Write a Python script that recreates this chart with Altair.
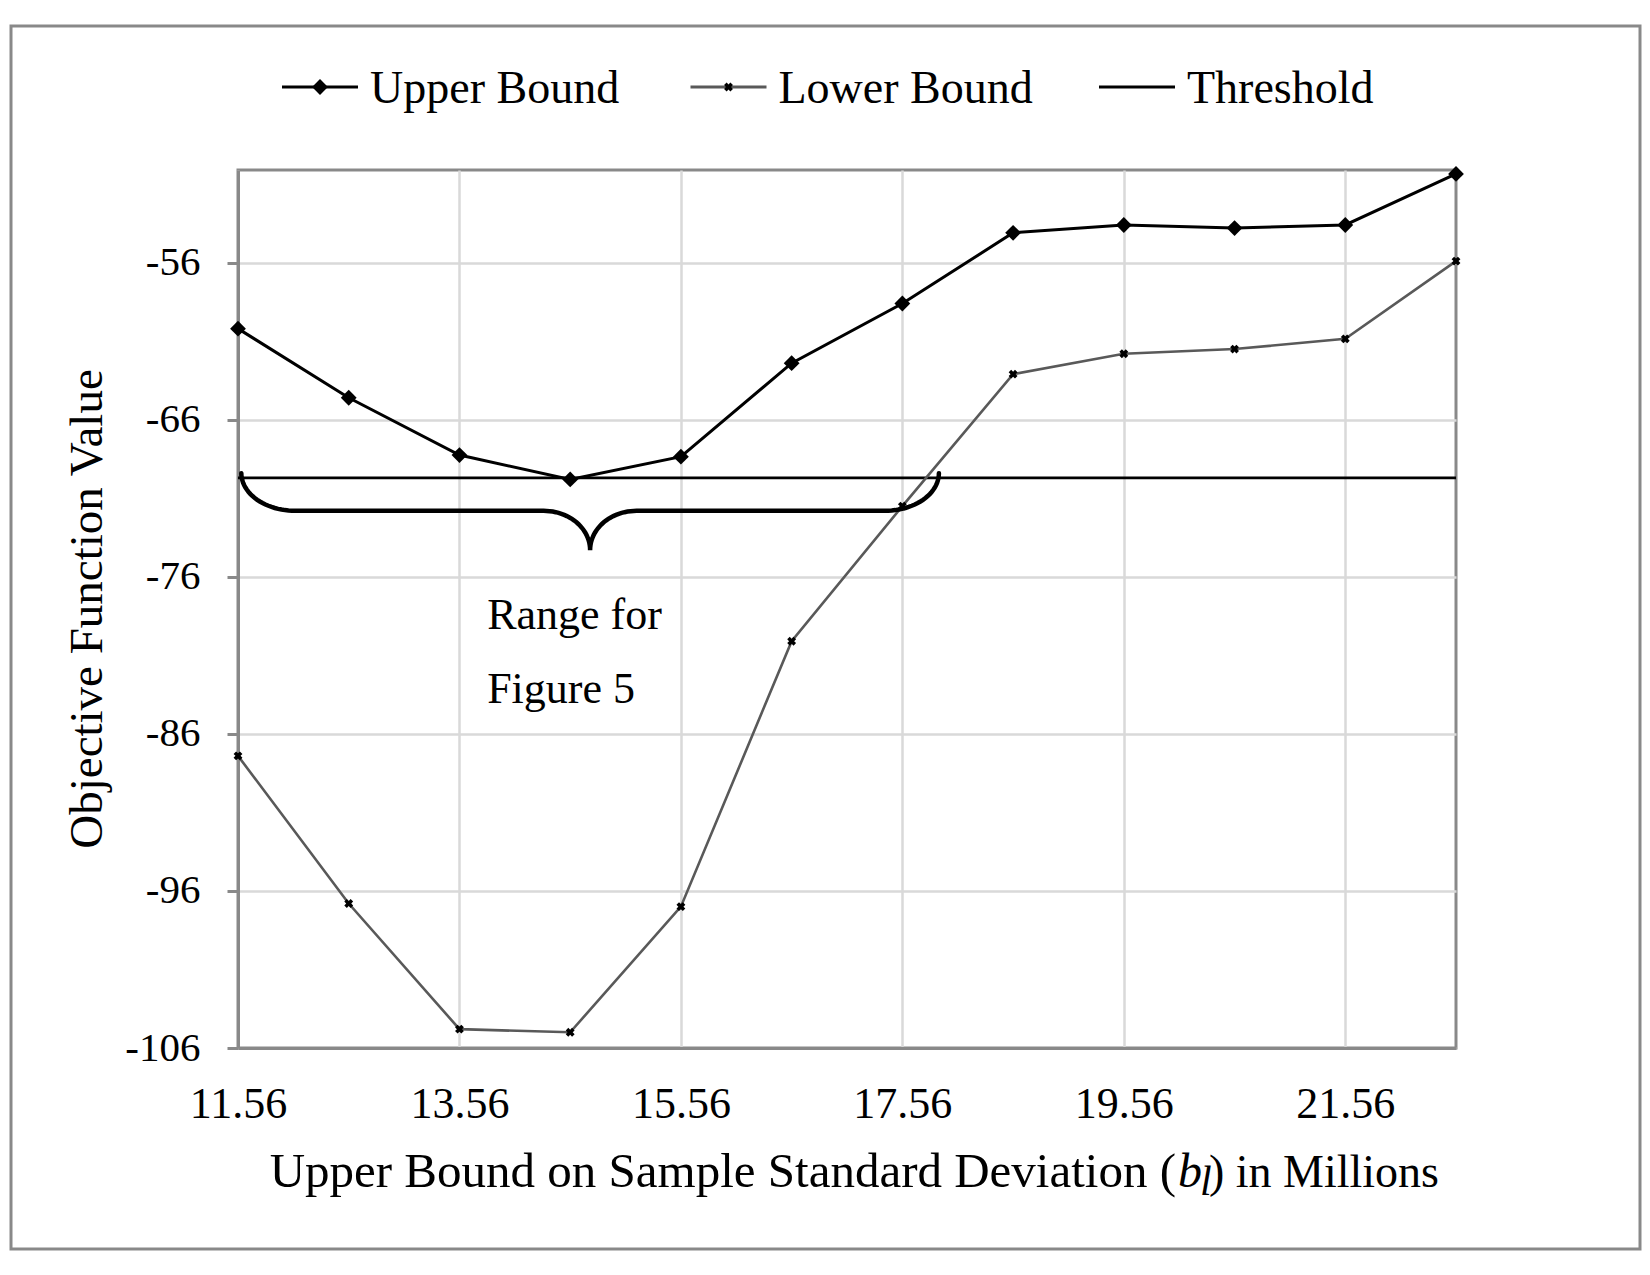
import altair as alt
import numpy as np
import pandas as pd

# ---- data -----------------------------------------------------------------
bound_sd = [11.56, 12.56, 13.56, 14.56, 15.56, 16.56, 17.56, 18.56, 19.56, 20.56, 21.56, 22.56]
upper_bound = [-60.2, -64.6, -68.25, -69.8, -68.35, -62.4, -58.6, -54.1, -53.6, -53.8, -53.6, -50.35]
lower_bound = [-87.4, -96.8, -104.8, -105.0, -97.0, -80.1, -71.5, -63.1, -61.8, -61.5, -60.85, -55.9]
threshold = -69.7

legend_names = ["Upper Bound", "Lower Bound", "Threshold"]
x_ticks = [11.56, 13.56, 15.56, 17.56, 19.56, 21.56]
y_ticks = [-106, -96, -86, -76, -66, -56]

# brace under the threshold (data units)
brace_x0, brace_x1 = 11.59, 17.89
brace_top, brace_mid, brace_tip = -69.4, -71.8, -74.3
brace_end_w, brace_center_w = 0.49, 0.42

FONT = "Liberation Serif"
GRID = "#d9d9d9"
FRAME = "#898989"
W, H = 1218, 878

series_df = pd.DataFrame({
    "x": bound_sd * 2,
    "value": upper_bound + lower_bound,
    "series": ["Upper Bound"] * len(bound_sd) + ["Lower Bound"] * len(bound_sd),
})
thr_df = pd.DataFrame({"x": [bound_sd[0], bound_sd[-1]], "value": [threshold, threshold]})

# curly brace path
t = np.linspace(0, np.pi / 2, 25)
xm = (brace_x0 + brace_x1) / 2
left_arc_x = brace_x0 + brace_end_w - brace_end_w * np.cos(t)
left_arc_y = brace_top - (brace_top - brace_mid) * np.sin(t)
mid_arc_x = xm - brace_center_w + brace_center_w * np.sin(t)
mid_arc_y = brace_tip + (brace_mid - brace_tip) * np.cos(t)
half_x = np.concatenate([left_arc_x, mid_arc_x])
half_y = np.concatenate([left_arc_y, mid_arc_y])
bx = np.concatenate([half_x, (2 * xm - half_x)[::-1]])
by = np.concatenate([half_y, half_y[::-1]])
brace_df = pd.DataFrame({"x": bx, "value": by, "k": np.arange(len(bx))})

xs = alt.Scale(domain=[bound_sd[0], bound_sd[-1]], nice=False, zero=False)
ys = alt.Scale(domain=[-106, -50.1], nice=False, zero=False)

x_enc = alt.X("x:Q", scale=xs, axis=alt.Axis(
    values=x_ticks, format=".2f", title=None, grid=True, gridColor=GRID, gridWidth=2.5,
    ticks=False, domain=True, domainColor=FRAME, domainWidth=3,
    labelFont=FONT, labelFontSize=44, labelColor="black", labelPadding=34, labelFlush=False,
))
y_enc = alt.Y("value:Q", scale=ys, axis=alt.Axis(
    values=y_ticks, title=None, grid=True, gridColor=GRID, gridWidth=2.5,
    ticks=True, tickSize=11, tickColor=FRAME, tickWidth=3,
    domain=True, domainColor=FRAME, domainWidth=3,
    labelFont=FONT, labelFontSize=41, labelColor="black", labelPadding=27, labelFlush=False,
    labelExpr="datum.value < 0 ? '-' + format(-datum.value, 'd') : format(datum.value, 'd')",
))

base = alt.Chart(series_df)
one = pd.DataFrame({"a": [0]})

frame = alt.Chart(one).mark_rect(
    fillOpacity=0, stroke=FRAME, strokeWidth=3
).encode(x=alt.value(-227), x2=alt.value(1402), y=alt.value(-144), y2=alt.value(1079))

upper_line = base.transform_filter(alt.datum.series == "Upper Bound").mark_line(
    color="black", strokeWidth=3).encode(x=x_enc, y=y_enc)
lower_line = base.transform_filter(alt.datum.series == "Lower Bound").mark_line(
    color="#595959", strokeWidth=2.6).encode(x=x_enc, y=y_enc)
thr_line = alt.Chart(thr_df).mark_line(color="black", strokeWidth=2.6).encode(x=x_enc, y=y_enc)
upper_pts = base.transform_filter(alt.datum.series == "Upper Bound").mark_point(
    shape="diamond", filled=True, color="black", size=250, opacity=1).encode(x=x_enc, y=y_enc)
lower_pts = base.transform_filter(alt.datum.series == "Lower Bound").mark_point(
    shape="cross", angle=45, filled=True, color="black", size=80, opacity=1).encode(x=x_enc, y=y_enc)
brace = alt.Chart(brace_df).mark_line(color="black", strokeWidth=4.5, strokeCap="round").encode(
    x=x_enc, y=y_enc, order="k:Q")

note_style = dict(font=FONT, fontSize=44, color="black", align="left", baseline="alphabetic")
note1 = alt.Chart(one).mark_text(text="Range for", **note_style).encode(
    x=alt.datum(13.81, scale=xs), y=alt.datum(-79.3, scale=ys))
note2 = alt.Chart(one).mark_text(text="Figure 5", **note_style).encode(
    x=alt.datum(13.81, scale=xs), y=alt.datum(-84.05, scale=ys))

# axis titles
y_title = alt.Chart(one).mark_text(
    text="Objective Function Value", font=FONT, fontSize=47, color="black",
    angle=270, align="center", baseline="alphabetic",
).encode(x=alt.value(-136), y=alt.value(H / 2))
title_y = 1017
xt_left = alt.Chart(one).mark_text(
    text="Upper Bound on Sample Standard Deviation (", font=FONT, fontSize=49, color="black",
    align="right", baseline="alphabetic").encode(x=alt.value(938), y=alt.value(title_y))
xt_b = alt.Chart(one).mark_text(
    text="b", font=FONT, fontSize=48, fontStyle="italic", color="black",
    align="left", baseline="alphabetic").encode(x=alt.value(940), y=alt.value(title_y))
xt_l = alt.Chart(one).mark_text(
    text="l", font=FONT, fontSize=42, fontStyle="italic", color="black",
    align="left", baseline="alphabetic").encode(x=alt.value(962), y=alt.value(title_y + 8))
xt_right = alt.Chart(one).mark_text(
    text=") in Millions", font=FONT, fontSize=46, color="black",
    align="left", baseline="alphabetic").encode(x=alt.value(971), y=alt.value(title_y))

main = alt.layer(frame, thr_line, lower_line, upper_line, lower_pts, upper_pts, brace,
                 note1, note2, y_title, xt_left, xt_b, xt_l, xt_right)

# legend across the top
leg_df = pd.DataFrame({"series": legend_names})
lx = alt.X("series:N", scale=alt.Scale(type="point", domain=legend_names, range=[82, 899], padding=0),
           axis=None)
lcol = alt.Color("series:N", scale=alt.Scale(domain=legend_names, range=["black", "#595959", "black"]),
                 legend=None)
leg_base = alt.Chart(leg_df)
leg_lines = leg_base.mark_rule(strokeWidth=3, xOffset=-38, x2Offset=38).encode(
    x=lx, x2="series:N", y=alt.value(-83), color=lcol)
leg_diamond = leg_base.transform_filter(alt.datum.series == "Upper Bound").mark_point(
    shape="diamond", filled=True, color="black", size=250, opacity=1).encode(x=lx, y=alt.value(-83))
leg_cross = leg_base.transform_filter(alt.datum.series == "Lower Bound").mark_point(
    shape="cross", angle=45, filled=True, color="black", size=80, opacity=1).encode(x=lx, y=alt.value(-83))
leg_text = leg_base.mark_text(font=FONT, fontSize=46, color="black", align="left",
                              baseline="alphabetic", dx=50).encode(
    x=lx, y=alt.value(-67), text="series:N")
legend = alt.layer(leg_lines, leg_diamond, leg_cross, leg_text)

chart = alt.layer(main, legend).resolve_scale(x="independent", color="independent").properties(
    width=W, height=H,
    autosize=alt.AutoSizeParams(type="none"),
    padding={"left": 238, "top": 170, "right": 194, "bottom": 227},
    background="white",
).configure_view(stroke=FRAME, strokeWidth=3)

chart.save("out.html", embed_options={"renderer": "svg", "actions": False})
